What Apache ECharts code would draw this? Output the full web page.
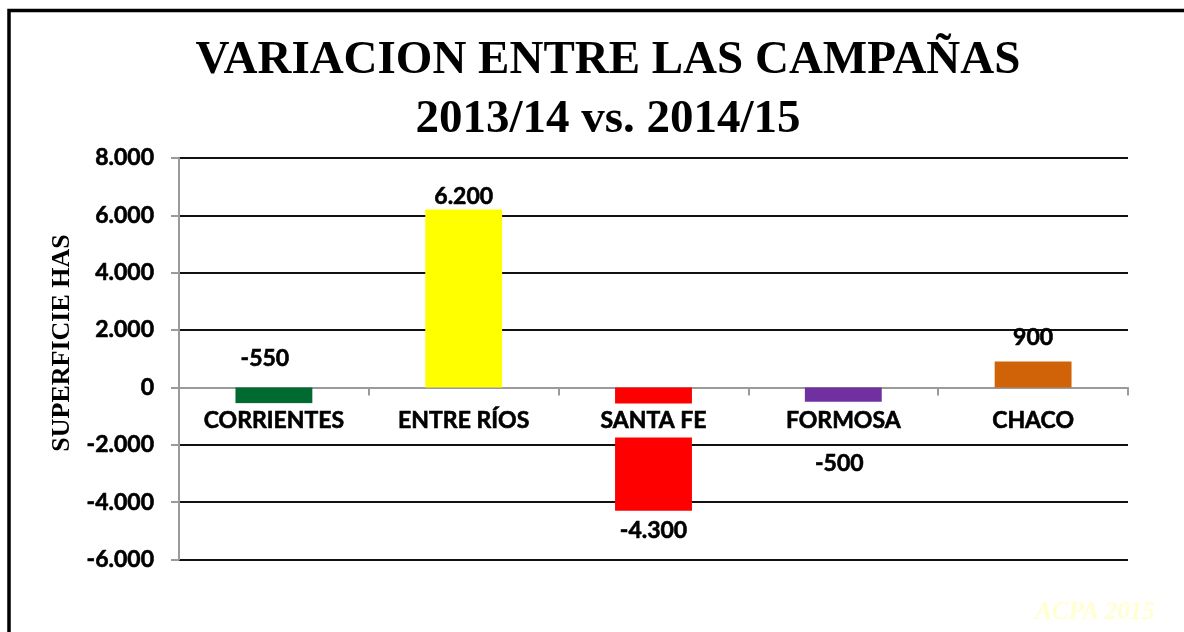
<!DOCTYPE html>
<html>
<head>
<meta charset="utf-8">
<script src="https://cdn.jsdelivr.net/npm/echarts@6/dist/echarts.min.js"></script>
<style>
html,body{margin:0;padding:0;background:#fff;}
#chart{width:1184px;height:632px;}
</style>
</head>
<body>
<div id="chart"></div>
<script>
const categories = ['CORRIENTES', 'ENTRE RÍOS', 'SANTA FE', 'FORMOSA', 'CHACO'];
const values = [-550, 6200, -4300, -500, 900];
const barColors = ['#006A31', '#FFFF00', '#FF0000', '#7030A0', '#D06308'];
const yMin = -6000, yMax = 8000, yStep = 2000;
const titleLines = ['VARIACION ENTRE LAS CAMPAÑAS', '2013/14 vs. 2014/15'];
const yAxisTitle = 'SUPERFICIE HAS';
const watermark = 'ACPA 2015';

function fmt(v) {
  const neg = v < 0;
  let s = String(Math.abs(Math.round(v)));
  s = s.replace(/\B(?=(\d{3})+(?!\d))/g, '.');
  return (neg ? '-' : '') + s;
}

const SANS = 'Lato, "Open Sans", sans-serif';
const SERIF = '"Liberation Serif", "DejaVu Serif", serif';
const boldText = {
  color: '#000', fontFamily: SANS, fontWeight: 'bold', fontSize: 23,
  textBorderColor: '#000', textBorderWidth: 0.6
};

// label placement per bar (styling, not data)
const labelPlace = [
  { position: 'top', distance: 18, offset: [-9, 0] },
  { position: 'top', distance: 2, offset: [0, 0] },
  { position: 'bottom', distance: 9, offset: [0, 0] },
  { position: 'bottom', distance: 51, offset: [-4, 0] },
  { position: 'top', distance: 13, offset: [0, 0] }
];

const chart = echarts.init(document.getElementById('chart'), null, { renderer: 'canvas' });

const option = {
  animation: false,
  backgroundColor: '#ffffff',
  grid: { left: 179, right: 56, top: 158, bottom: 72.5, containLabel: false },
  xAxis: {
    type: 'category',
    data: categories,
    axisLine: { show: true, onZero: true, lineStyle: { color: '#9a9a9a', width: 2 } },
    axisTick: { show: true, length: 8, interval: 0, lineStyle: { color: '#9a9a9a', width: 2 } },
    axisLabel: { show: false },
    splitLine: { show: false }
  },
  yAxis: {
    type: 'value',
    min: yMin,
    max: yMax,
    interval: yStep,
    axisLine: { show: true, lineStyle: { color: '#9a9a9a', width: 2 } },
    axisTick: { show: true, length: 8, inside: false, lineStyle: { color: '#9a9a9a', width: 2 } },
    axisLabel: Object.assign({ margin: 25, formatter: fmt }, boldText),
    splitLine: { show: true, lineStyle: { color: '#111', width: 2 } }
  },
  series: [
    {
      type: 'bar',
      barWidth: '40.5%',
      z: 2,
      data: values.map((v, i) => ({
        value: v,
        itemStyle: { color: barColors[i] },
        label: {
          show: true,
          position: labelPlace[i].position,
          distance: labelPlace[i].distance,
          offset: labelPlace[i].offset
        }
      })),
      label: Object.assign({ show: true, lineHeight: 22, formatter: p => fmt(p.value) }, boldText)
    },
    {
      // category names sitting on the zero line, with white boxes
      type: 'scatter',
      z: 5,
      silent: true,
      symbolSize: 0,
      itemStyle: { opacity: 1 },
      emphasis: { disabled: true },
      data: categories.map(c => [c, 0]),
      label: Object.assign({
        show: true,
        opacity: 1,
        position: 'bottom',
        distance: 16,
        lineHeight: 22,
        padding: [6, 6],
        backgroundColor: '#ffffff',
        formatter: p => categories[p.dataIndex]
      }, boldText)
    }
  ],
  graphic: [
    {
      type: 'polyline',
      shape: { points: [[9, 640], [9, 10.5], [1195, 10.5]] },
      style: { stroke: '#000', lineWidth: 3.5, fill: null },
      z: 100
    },
    {
      type: 'text', x: 608, y: 61,
      style: { text: titleLines[0], fill: '#000', font: 'bold 47px ' + SERIF, align: 'center', verticalAlign: 'middle' }
    },
    {
      type: 'text', x: 608, y: 120,
      style: { text: titleLines[1], fill: '#000', font: 'bold 47px ' + SERIF, align: 'center', verticalAlign: 'middle' }
    },
    {
      type: 'text', x: 62, y: 343, rotation: Math.PI / 2,
      style: { text: yAxisTitle, fill: '#000', font: 'bold 26px ' + SERIF, align: 'center', verticalAlign: 'middle' }
    },
    {
      type: 'text', x: 1095, y: 613,
      style: { text: watermark, fill: '#FFFFD0', font: 'italic bold 25px ' + SERIF, align: 'center', verticalAlign: 'middle' }
    }
  ]
};

chart.setOption(option);
</script>
</body>
</html>
